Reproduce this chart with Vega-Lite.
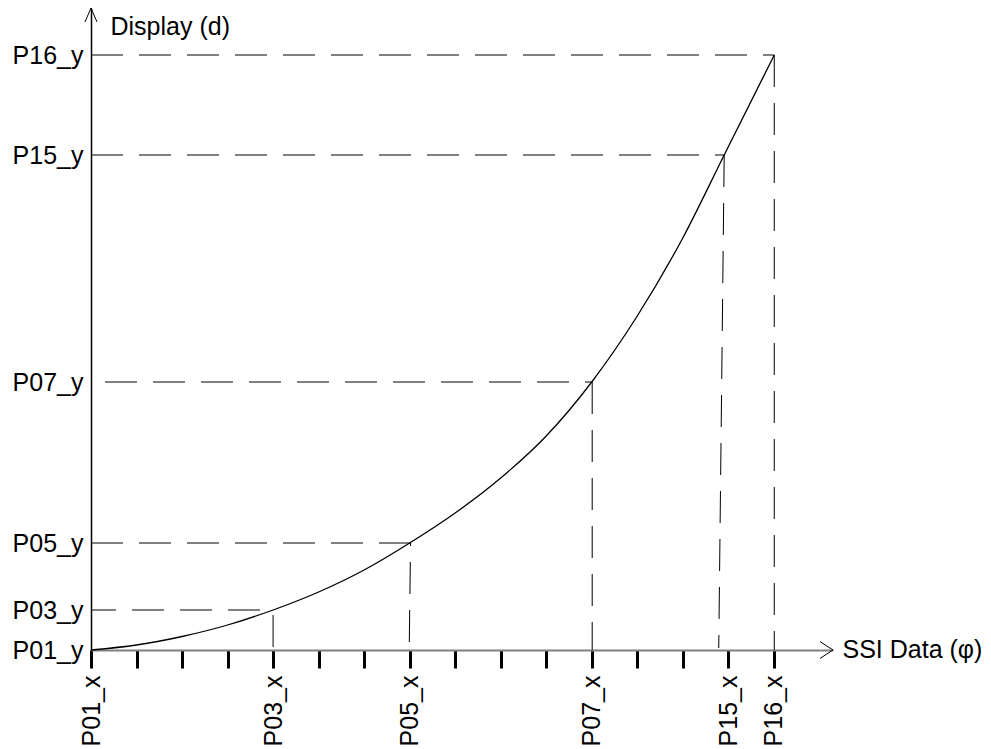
{
  "$schema": "https://vega.github.io/schema/vega-lite/v6.json",
  "autosize": "none",
  "width": 742,
  "height": 642,
  "padding": {"left": 91, "top": 8, "right": 158, "bottom": 99},
  "background": "white",
  "config": {"view": {"stroke": null}, "font": "Liberation Sans"},
  "datasets": {
    "curve": [
      {"x": 0, "y": 0},
      {"x": 1, "y": 5},
      {"x": 2, "y": 13.5},
      {"x": 3, "y": 25},
      {"x": 4, "y": 40},
      {"x": 5, "y": 58},
      {"x": 6, "y": 80},
      {"x": 7, "y": 107},
      {"x": 8, "y": 137},
      {"x": 9, "y": 172},
      {"x": 10, "y": 214},
      {"x": 11, "y": 268},
      {"x": 12, "y": 334},
      {"x": 13, "y": 412},
      {"x": 13.91, "y": 495},
      {"x": 15.01, "y": 595}
    ],
    "guides": [
      {"id": "h16", "x": 0, "y": 595, "x2": 15.01, "y2": 595},
      {"id": "h15", "x": 0, "y": 495, "x2": 13.91, "y2": 495},
      {"id": "h07", "x": 0, "y": 268, "x2": 11.01, "y2": 268},
      {"id": "h05", "x": 0, "y": 107, "x2": 7.01, "y2": 107},
      {"id": "h03", "x": 0, "y": 40, "x2": 4.0, "y2": 40},
      {"id": "v16", "x": 15.01, "y": 595, "x2": 15.01, "y2": 0},
      {"id": "v15", "x": 13.91, "y": 495, "x2": 13.79, "y2": 2},
      {"id": "v07", "x": 11.01, "y": 268, "x2": 11.01, "y2": 0},
      {"id": "v05", "x": 7.02, "y": 107, "x2": 6.99, "y2": 0},
      {"id": "v03", "x": 4.0, "y": 40, "x2": 4.0, "y2": 0}
    ],
    "arrows": [
      {"dir": "right", "x": 16.3, "y": 0},
      {"dir": "up", "x": 0, "y": 642}
    ]
  },
  "layer": [
    {
      "data": {"name": "guides"},
      "transform": [{"filter": "datum.id === 'h16' || datum.id === 'h15' || datum.id === 'h05' || datum.id === 'v16' || datum.id === 'v15' || datum.id === 'v07'"}],
      "mark": {"type": "rule", "color": "black", "strokeWidth": 1, "strokeDash": [32, 16]},
      "encoding": {
        "x": {"field": "x", "type": "quantitative", "scale": {"domain": [0, 16.3], "nice": false, "zero": false},
          "axis": {
            "values": [0,1,2,3,4,5,6,7,8,9,10,11,12,13,14,15],
            "labelExpr": "datum.value == 0 ? 'P01_x' : datum.value == 4 ? 'P03_x' : datum.value == 7 ? 'P05_x' : datum.value == 11 ? 'P07_x' : datum.value == 14 ? 'P15_x' : datum.value == 15 ? 'P16_x' : ''",
            "labelAngle": 270, "labelFontSize": 25, "labelColor": "black", "labelPadding": 7,
            "labelOverlap": false, "labelBound": false, "labelFlush": false,
            "tickColor": "black", "tickWidth": 3, "tickSize": 18,
            "domainColor": "#808080", "domainWidth": 2, "grid": false,
            "title": "SSI Data (φ)", "titleFontSize": 25, "titleFontWeight": "normal", "titleColor": "black",
            "titleX": 751, "titleY": -1, "titleAlign": "left", "titleBaseline": "middle", "titleAnchor": "start"
          }},
        "y": {"field": "y", "type": "quantitative", "scale": {"domain": [0, 642], "nice": false, "zero": false},
          "axis": {
            "values": [0, 40, 107, 268, 495, 595],
            "labelExpr": "datum.value == 0 ? 'P01_y' : datum.value == 40 ? 'P03_y' : datum.value == 107 ? 'P05_y' : datum.value == 268 ? 'P07_y' : datum.value == 495 ? 'P15_y' : 'P16_y'",
            "labelFontSize": 25, "labelColor": "black", "labelPadding": 8, "labelBaseline": "middle",
            "labelOverlap": false, "labelBound": false, "labelFlush": false,
            "ticks": false, "domainColor": "black", "domainWidth": 1.5, "grid": false,
            "title": "Display (d)", "titleFontSize": 25, "titleFontWeight": "normal", "titleColor": "black",
            "titleAngle": 0, "titleX": 19, "titleY": 26, "titleAlign": "left", "titleBaseline": "alphabetic", "titleAnchor": "start"
          }},
        "x2": {"field": "x2"},
        "y2": {"field": "y2"}
      }
    },
    {
      "data": {"name": "guides"},
      "transform": [{"filter": "datum.id === 'h07'"}],
      "mark": {"type": "rule", "color": "black", "strokeWidth": 1, "strokeDash": [32, 16], "strokeDashOffset": 34},
      "encoding": {"x": {"field": "x", "type": "quantitative"}, "y": {"field": "y", "type": "quantitative"}, "x2": {"field": "x2"}, "y2": {"field": "y2"}}
    },
    {
      "data": {"name": "guides"},
      "transform": [{"filter": "datum.id === 'h03'"}],
      "mark": {"type": "rule", "color": "black", "strokeWidth": 1, "strokeDash": [32, 16], "strokeDashOffset": 7},
      "encoding": {"x": {"field": "x", "type": "quantitative"}, "y": {"field": "y", "type": "quantitative"}, "x2": {"field": "x2"}, "y2": {"field": "y2"}}
    },
    {
      "data": {"name": "guides"},
      "transform": [{"filter": "datum.id === 'v05'"}],
      "mark": {"type": "rule", "color": "black", "strokeWidth": 1, "strokeDash": [32, 16], "strokeDashOffset": 29},
      "encoding": {"x": {"field": "x", "type": "quantitative"}, "y": {"field": "y", "type": "quantitative"}, "x2": {"field": "x2"}, "y2": {"field": "y2"}}
    },
    {
      "data": {"name": "guides"},
      "transform": [{"filter": "datum.id === 'v03'"}],
      "mark": {"type": "rule", "color": "black", "strokeWidth": 1, "strokeDash": [32, 16], "strokeDashOffset": 43},
      "encoding": {"x": {"field": "x", "type": "quantitative"}, "y": {"field": "y", "type": "quantitative"}, "x2": {"field": "x2"}, "y2": {"field": "y2"}}
    },
    {
      "data": {"name": "curve"},
      "mark": {"type": "line", "color": "black", "strokeWidth": 1.3, "interpolate": "monotone"},
      "encoding": {"x": {"field": "x", "type": "quantitative"}, "y": {"field": "y", "type": "quantitative"}}
    },
    {
      "data": {"name": "arrows"},
      "transform": [{"filter": "datum.dir === 'right'"}],
      "mark": {"type": "point", "shape": "M -1 -0.65 L 0 0 L -1 0.65", "size": 676, "filled": false, "stroke": "black", "strokeWidth": 1, "opacity": 1},
      "encoding": {"x": {"field": "x", "type": "quantitative"}, "y": {"field": "y", "type": "quantitative"}}
    },
    {
      "data": {"name": "arrows"},
      "transform": [{"filter": "datum.dir === 'up'"}],
      "mark": {"type": "point", "shape": "M -0.43 1 L 0 0 L 0.43 1", "size": 784, "filled": false, "stroke": "black", "strokeWidth": 1, "opacity": 1},
      "encoding": {"x": {"field": "x", "type": "quantitative"}, "y": {"field": "y", "type": "quantitative"}}
    }
  ]
}
